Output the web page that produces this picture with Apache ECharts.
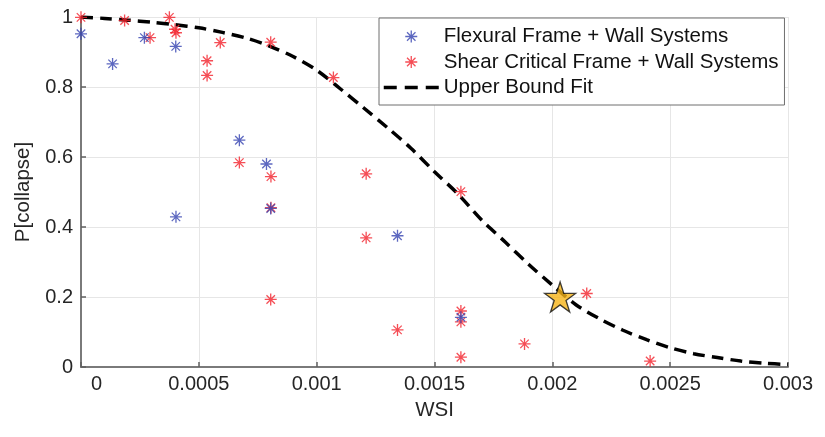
<!DOCTYPE html>
<html><head><meta charset="utf-8">
<script src="https://cdn.jsdelivr.net/npm/echarts@6/dist/echarts.min.js"></script>
<style>html,body{margin:0;padding:0;background:#fff}#c{width:825px;height:437px}</style>
</head><body><div id="c"></div>
<script>
// ---- data ----
const flexWSI = [0, 0.000134, 0.000269, 0.000402, 0.000403, 0.000672, 0.000787, 0.000805, 0.001343, 0.001612];
const flexP   = [0.952, 0.866, 0.941, 0.916, 0.429, 0.648, 0.58, 0.453, 0.375, 0.142];

const shearWSI = [0, 0.000185, 0.000293, 0.000375, 0.000399, 0.000403, 0.000535, 0.000535, 0.000591, 0.000805,
                  0.000672, 0.000806, 0.000806, 0.000805, 0.001071, 0.00121, 0.00121, 0.001343, 0.001612, 0.001612,
                  0.001612, 0.001612, 0.001882, 0.002146, 0.002415];
const shearP   = [0.999, 0.99, 0.941, 0.999, 0.965, 0.955, 0.875, 0.833, 0.927, 0.928,
                  0.584, 0.544, 0.455, 0.193, 0.827, 0.552, 0.369, 0.106, 0.501, 0.16,
                  0.129, 0.028, 0.066, 0.21, 0.017];

const fitWSI = [0, 0.0001, 0.0002, 0.0003, 0.0004, 0.0005, 0.0006, 0.0007, 0.0008, 0.0009,
                0.001, 0.0011, 0.0012, 0.0013, 0.0014, 0.0015, 0.0016, 0.0017, 0.0018, 0.0019,
                0.002, 0.0021, 0.0022, 0.0023, 0.0024, 0.0025, 0.0026, 0.0027, 0.0028, 0.0029, 0.003];
const fitP   = [1.0, 0.996, 0.991, 0.985, 0.978, 0.969, 0.956, 0.94, 0.917, 0.887,
                0.848, 0.795, 0.74, 0.684, 0.625, 0.558, 0.494, 0.42, 0.357, 0.293,
                0.234, 0.178, 0.138, 0.105, 0.078, 0.055, 0.038, 0.027, 0.017, 0.011, 0.007];

const starWSI = [0.002033];
const starP   = [0.2];

const seriesNames = ['Flexural Frame + Wall Systems', 'Shear Critical Frame + Wall Systems', 'Upper Bound Fit'];
const xAxisTitle = 'WSI';
const yAxisTitle = 'P[collapse]';

// ---- chart ----
const ASTER = 'path://M-100 -11L100 -11L100 11L-100 11Z M-11 -100L11 -100L11 100L-11 100Z M-63 -78L78 63L63 78L-78 -63Z M-63 78L-78 63L63 -78L78 -63Z';
const STAR = 'path://M0 -100L22.45 -30.9L95.11 -30.9L36.33 11.8L58.78 80.9L0 38.2L-58.78 80.9L-36.33 11.8L-95.11 -30.9L-22.45 -30.9Z';
const FONT = 'Liberation Sans, Arial, Helvetica, sans-serif';
const BLUE = '#3442b0';
const RED = '#f2222c';
const zip = (a, b) => a.map((v, i) => [v, b[i]]);

const chart = echarts.init(document.getElementById('c'), null, {renderer: 'canvas'});
chart.setOption({
  animation: false,
  backgroundColor: '#ffffff',
  textStyle: {fontFamily: FONT},
  grid: {left: 81, right: 37, top: 17, bottom: 70, containLabel: false},
  legend: {
    orient: 'vertical', left: 379, top: 18,
    padding: [8, 6, 7, 3], itemGap: 4.5, itemWidth: 55, itemHeight: 12,
    borderColor: '#6e6e6e', borderWidth: 1, backgroundColor: '#ffffff',
    textStyle: {fontSize: 20.5, color: '#111', fontFamily: FONT},
    data: [
      {name: seriesNames[0], icon: ASTER},
      {name: seriesNames[1], icon: ASTER},
      {name: seriesNames[2], itemStyle: {color: 'rgba(0,0,0,0)', opacity: 0},
       lineStyle: {color: '#000', width: 3.5, type: [13, 8]}}
    ]
  },
  xAxis: {
    type: 'value', min: 0, max: 0.003, interval: 0.0005,
    name: xAxisTitle, nameLocation: 'middle', nameGap: 33,
    nameTextStyle: {fontSize: 20.5, color: '#262626', fontFamily: FONT},
    axisLine: {show: true, lineStyle: {color: '#7a7a7a', width: 2}},
    axisTick: {show: true, inside: true, length: 5, lineStyle: {color: '#606060', width: 1.5}},
    splitLine: {show: true, lineStyle: {color: '#e6e6e6', width: 1}},
    axisLabel: {
      fontSize: 20, color: '#262626', margin: 7, fontFamily: FONT,
      formatter: v => v === 0 ? '{z|0}' : String(+v.toFixed(4)),
      rich: {z: {fontSize: 20, color: '#262626', fontFamily: FONT, padding: [0, 0, 0, 31]}}
    }
  },
  yAxis: {
    type: 'value', min: 0, max: 1, interval: 0.2,
    name: yAxisTitle, nameLocation: 'middle', nameGap: 47,
    nameTextStyle: {fontSize: 20.5, color: '#262626', fontFamily: FONT},
    axisLine: {show: true, lineStyle: {color: '#7a7a7a', width: 2}},
    axisTick: {show: true, inside: true, length: 5, lineStyle: {color: '#606060', width: 1.5}},
    splitLine: {show: true, lineStyle: {color: '#e6e6e6', width: 1}},
    axisLabel: {fontSize: 20, color: '#262626', margin: 8, fontFamily: FONT,
      formatter: v => String(+v.toFixed(1))}
  },
  series: [
    {
      name: seriesNames[2], type: 'line', data: zip(fitWSI, fitP),
      smooth: 0.3, symbol: 'none', z: 3,
      lineStyle: {color: '#000', width: 3.5, type: [12, 7]},
      itemStyle: {color: 'rgba(0,0,0,0)'}
    },
    {
      name: seriesNames[1], type: 'scatter', data: zip(shearWSI, shearP),
      symbol: ASTER, symbolSize: 12, z: 4,
      itemStyle: {color: RED}
    },
    {
      name: seriesNames[0], type: 'scatter', data: zip(flexWSI, flexP),
      symbol: ASTER, symbolSize: 12, z: 5,
      itemStyle: {color: BLUE}
    },
    {
      name: 'star', type: 'scatter', data: zip(starWSI, starP),
      symbol: STAR, symbolSize: [31, 30], z: 6,
      itemStyle: {color: '#f6b418', borderColor: '#111', borderWidth: 1.3}
    }
  ]
});
</script>
</body></html>
